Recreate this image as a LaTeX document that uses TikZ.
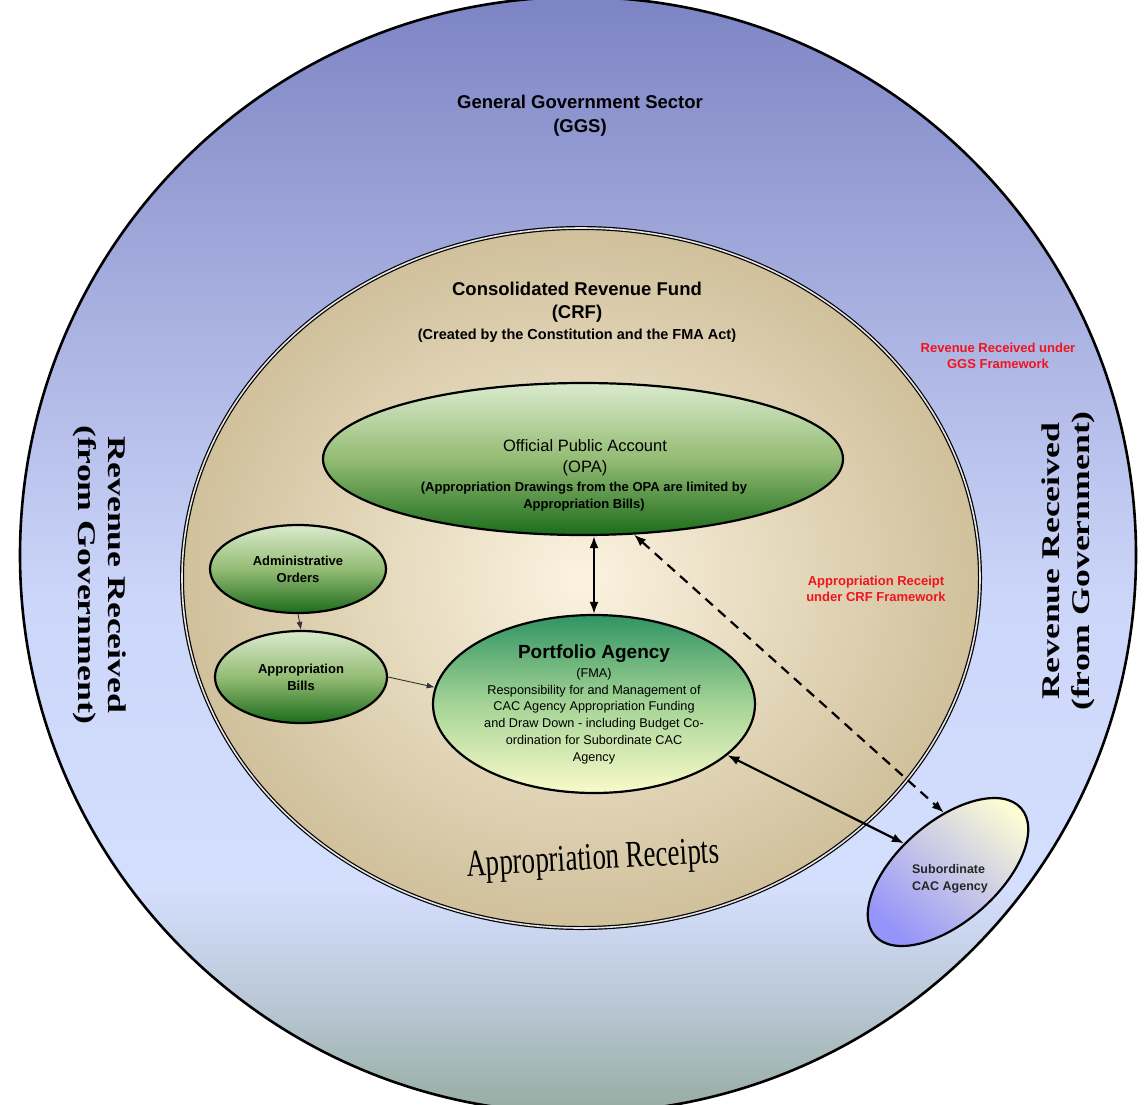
\documentclass[tikz,border=0pt]{standalone}
\usepackage{fontspec}
\setmainfont{Liberation Sans}
\newfontfamily\artfont{Liberation Serif}
\usepackage{xcolor}
\usetikzlibrary{shapes.geometric,arrows.meta}
\definecolor{ggstop}{RGB}{125,132,196}
\definecolor{ggsupper}{RGB}{168,176,224}
\definecolor{ggsmid}{RGB}{204,214,249}
\definecolor{ggslight}{RGB}{212,222,253}
\definecolor{ggslow}{RGB}{186,200,214}
\definecolor{ggsbot}{RGB}{150,172,160}
\definecolor{crfin}{RGB}{251,243,224}
\definecolor{crfout}{RGB}{208,192,155}
\definecolor{greentop}{RGB}{218,234,205}
\definecolor{greenmid}{RGB}{148,188,116}
\definecolor{greenbot}{RGB}{28,108,28}
\definecolor{patop}{RGB}{48,148,98}
\definecolor{pamid}{RGB}{165,212,150}
\definecolor{pabot}{RGB}{250,250,202}
\definecolor{subtop}{RGB}{252,252,212}
\definecolor{subbot}{RGB}{148,148,250}
\definecolor{redlabel}{RGB}{240,20,30}
\pgfdeclareverticalshading{ggsshade}{100bp}{color(0bp)=(ggsbot); color(25bp)=(ggsbot);
  color(30bp)=(ggslow); color(35bp)=(ggslight); color(48bp)=(ggsmid);
  color(61bp)=(ggsupper); color(75bp)=(ggstop); color(100bp)=(ggstop)}

\begin{document}
\begin{tikzpicture}[x=1pt,y=-1pt,
  greenell/.style={ellipse, draw=black, line width=2.2pt, inner sep=0pt,
    top color=greentop, bottom color=greenbot, middle color=greenmid},
  thinarr/.style={-{Latex[length=8pt,width=6pt]}, draw=black!80, line width=0.9pt},
  bigarr/.style={{Latex[length=12pt,width=9pt]}-{Latex[length=12pt,width=9pt]}, line width=2.2pt},
  redtxt/.style={text=redlabel, font=\bfseries\fontsize{13}{16}\selectfont, align=center},
  arttxt/.style={font=\artfont\bfseries\fontsize{25.5}{30}\selectfont, align=center}]

% Page
\fill[white] (0,0) rectangle (1148,1104);
\useasboundingbox (0,0) rectangle (1148,1104);

% General Government Sector
\path[draw=black, line width=2.6pt, shading=ggsshade] (578,555) circle (558);
\node[font=\bfseries\fontsize{18.5}{24}\selectfont, align=center] (ggs) at (580,116) {General Government Sector\\(GGS)};
\node[arttxt, rotate=-90] (revleft) at (100,575)
  {\scalebox{1.4}[1]{Revenue Received}\\\scalebox{1.4}[1]{(from Government)}};
\node[arttxt, rotate=90] (revright) at (1068,561)
  {\scalebox{1.4}[1]{Revenue Received}\\\scalebox{1.4}[1]{(from Government)}};
\node[redtxt] (ggsrev) at (998,356) {Revenue Received under\\GGS Framework};

% Consolidated Revenue Fund
\path[draw=black, line width=1.2pt, double=white!80!gray, double distance=1.6pt,
  inner color=crfin, outer color=crfout] (581,578) ellipse (399 and 350);
\node[font=\bfseries\fontsize{18.5}{23}\selectfont, align=center] (crf) at (577,302) {Consolidated Revenue Fund\\(CRF)};
\node[font=\bfseries\fontsize{14.5}{16}\selectfont] (crfnote) at (577,336) {(Created by the Constitution and the FMA Act)};
\node[redtxt] (crfrec) at (876,589) {Appropriation Receipt\\under CRF Framework};
\node[font=\artfont\fontsize{27}{30}\selectfont, rotate=3] (apprec) at (593,861)
  {\scalebox{1}[1.4]{Appropriation Receipts}};

% Official Public Account
\node[greenell, minimum width=520pt, minimum height=152pt] (opa) at (583,459) {};
\node[font=\fontsize{16.5}{21}\selectfont, align=center] (opatitle) at (585,458) {Official Public Account\\(OPA)};
\node[font=\bfseries\fontsize{13}{17}\selectfont, align=center] (opanote) at (584,497)
  {(Appropriation Drawings from the OPA are limited by\\Appropriation Bills)};

% Orders and bills
\node[greenell, minimum width=176pt, minimum height=88pt, font=\bfseries\fontsize{13}{17}\selectfont, align=center] (admin) at (298,569) {Administrative\\Orders};
\node[greenell, minimum width=172pt, minimum height=92pt, font=\bfseries\fontsize{13}{17}\selectfont, align=center] (bills) at (301,677) {Appropriation\\Bills};

% Portfolio Agency
\node[ellipse, draw=black, line width=2.2pt, inner sep=0pt, minimum width=322pt, minimum height=178pt,
  top color=patop, bottom color=pabot, middle color=pamid] (pa) at (594,704) {};
\node[font=\bfseries\fontsize{19}{22}\selectfont] (patitle) at (594,654) {Portfolio Agency};
\node[font=\fontsize{12.7}{16.8}\selectfont, align=center] (patext) at (594,716)
  {(FMA)\\Responsibility for and Management of\\CAC Agency Appropriation Funding\\and Draw Down - including Budget Co-\\ordination for Subordinate CAC\\Agency};

% Subordinate agency
\node[ellipse, draw=black, line width=2.2pt, inner sep=0pt, rotate=41, minimum width=194pt, minimum height=100pt,
  top color=subtop, bottom color=subbot, shading angle=-41] (sub) at (948,872) {};
\node[font=\bfseries\fontsize{12.5}{17}\selectfont, text=black!85, align=left] (subtext) at (950,879) {Subordinate\\CAC Agency};

% Connectors
\draw[bigarr] (pa.north |- opa.south) -- (pa.north);
\draw[bigarr, dash pattern=on 10pt off 7pt] (opa.-56) -- (sub.53);
\draw[bigarr] (pa.-21) -- (sub.106);
\draw[thinarr] (admin.south) -- (bills.north);
\draw[thinarr] (bills.east) -- (pa.174);
\end{tikzpicture}
\end{document}
